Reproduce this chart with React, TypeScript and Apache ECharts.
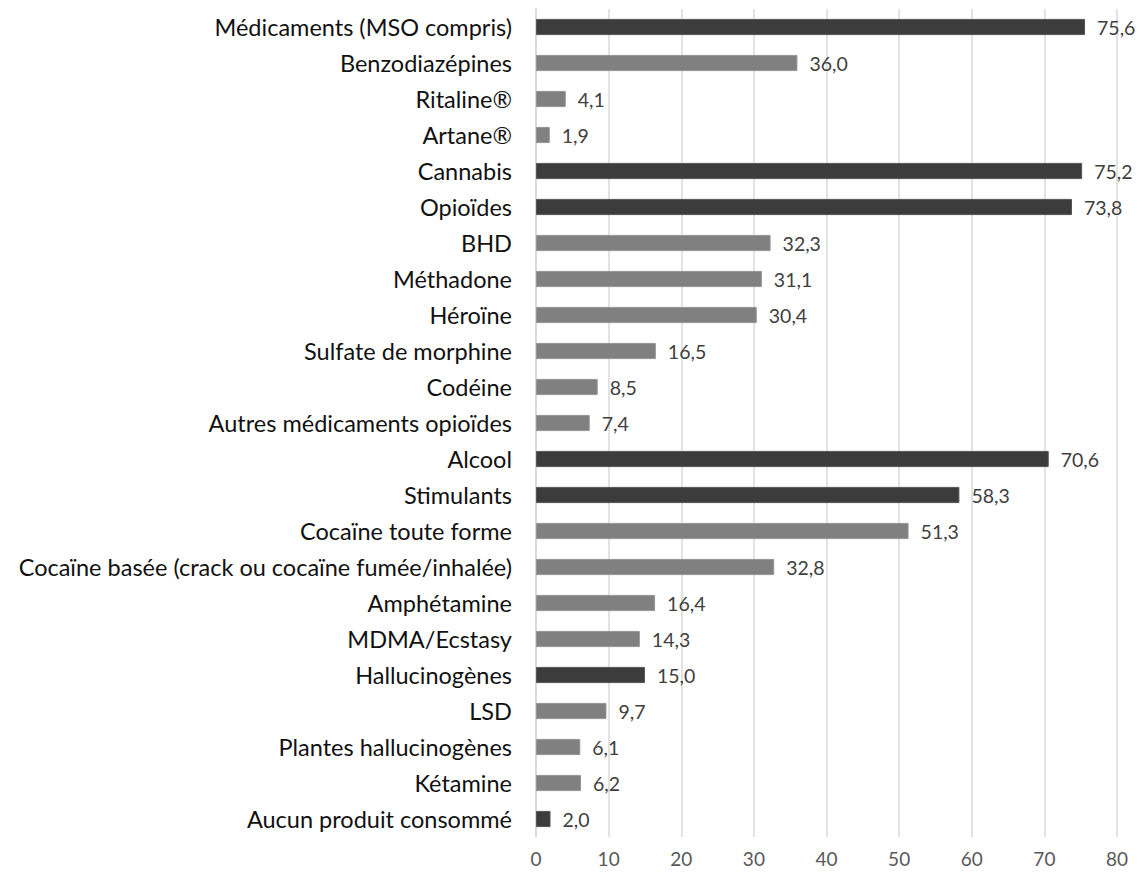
import React, { useEffect, useRef } from "react";
import * as echarts from "echarts";

const categories = [
  "Médicaments (MSO compris)",
  "Benzodiazépines",
  "Ritaline®",
  "Artane®",
  "Cannabis",
  "Opioïdes",
  "BHD",
  "Méthadone",
  "Héroïne",
  "Sulfate de morphine",
  "Codéine",
  "Autres médicaments opioïdes",
  "Alcool",
  "Stimulants",
  "Cocaïne toute forme",
  "Cocaïne basée (crack ou cocaïne fumée/inhalée)",
  "Amphétamine",
  "MDMA/Ecstasy",
  "Hallucinogènes",
  "LSD",
  "Plantes hallucinogènes",
  "Kétamine",
  "Aucun produit consommé",
];

const values = [75.6, 36.0, 4.1, 1.9, 75.2, 73.8, 32.3, 31.1, 30.4, 16.5, 8.5, 7.4, 70.6, 58.3, 51.3, 32.8, 16.4, 14.3, 15.0, 9.7, 6.1, 6.2, 2.0];

// 1 = family total (dark bar), 0 = sub-product (grey bar)
const isFamily = [1, 0, 0, 0, 1, 1, 0, 0, 0, 0, 0, 0, 1, 1, 0, 0, 0, 0, 1, 0, 0, 0, 1];

const xTicks = [0, 10, 20, 30, 40, 50, 60, 70, 80];

const DARK = "#3c3c3c";
const LIGHT = "#808080";

export default function App() {
  const ref = useRef<HTMLDivElement>(null);
  useEffect(() => {
    if (!ref.current) return;
    const chart = echarts.init(ref.current, undefined, { renderer: "svg" });
    chart.setOption({
      animation: false,
      textStyle: { fontFamily: "Lato" },
      grid: { left: 536, right: 26, top: 9, height: 828, containLabel: false },
      xAxis: {
        type: "value",
        min: xTicks[0],
        max: xTicks[xTicks.length - 1],
        interval: 10,
        axisLine: { show: false },
        axisTick: { show: false },
        axisLabel: { color: "#595959", fontSize: 19, margin: 12, fontFamily: "Lato" },
        splitLine: { show: true, lineStyle: { color: "#d9d9d9", width: 1.5 } },
      },
      yAxis: {
        type: "category",
        inverse: true,
        data: categories,
        axisLine: { show: true, lineStyle: { color: "#d9d9d9", width: 1.5 } },
        axisTick: { show: false },
        axisLabel: { color: "#111111", fontSize: 23.5, margin: 24, fontFamily: "Lato" },
      },
      series: [
        {
          type: "bar",
          barCategoryGap: "55%",
          data: values.map((v, i) => ({
            value: v,
            itemStyle: {
              color: isFamily[i] ? DARK : LIGHT,
              borderColor: isFamily[i] ? "#555555" : "#959595",
              borderWidth: 1,
            },
          })),
          label: {
            show: true,
            position: "right",
            distance: 12,
            color: "#404040",
            fontSize: 19.5,
            fontFamily: "Lato",
            formatter: (p: any) => Number(p.value).toFixed(1).replace(".", ","),
          },
        },
      ],
    });
    return () => chart.dispose();
  }, []);
  return (
    <div
      ref={ref}
      style={{ position: "fixed", left: 0, top: 0, width: 1143, height: 874, background: "#ffffff" }}
    />
  );
}
